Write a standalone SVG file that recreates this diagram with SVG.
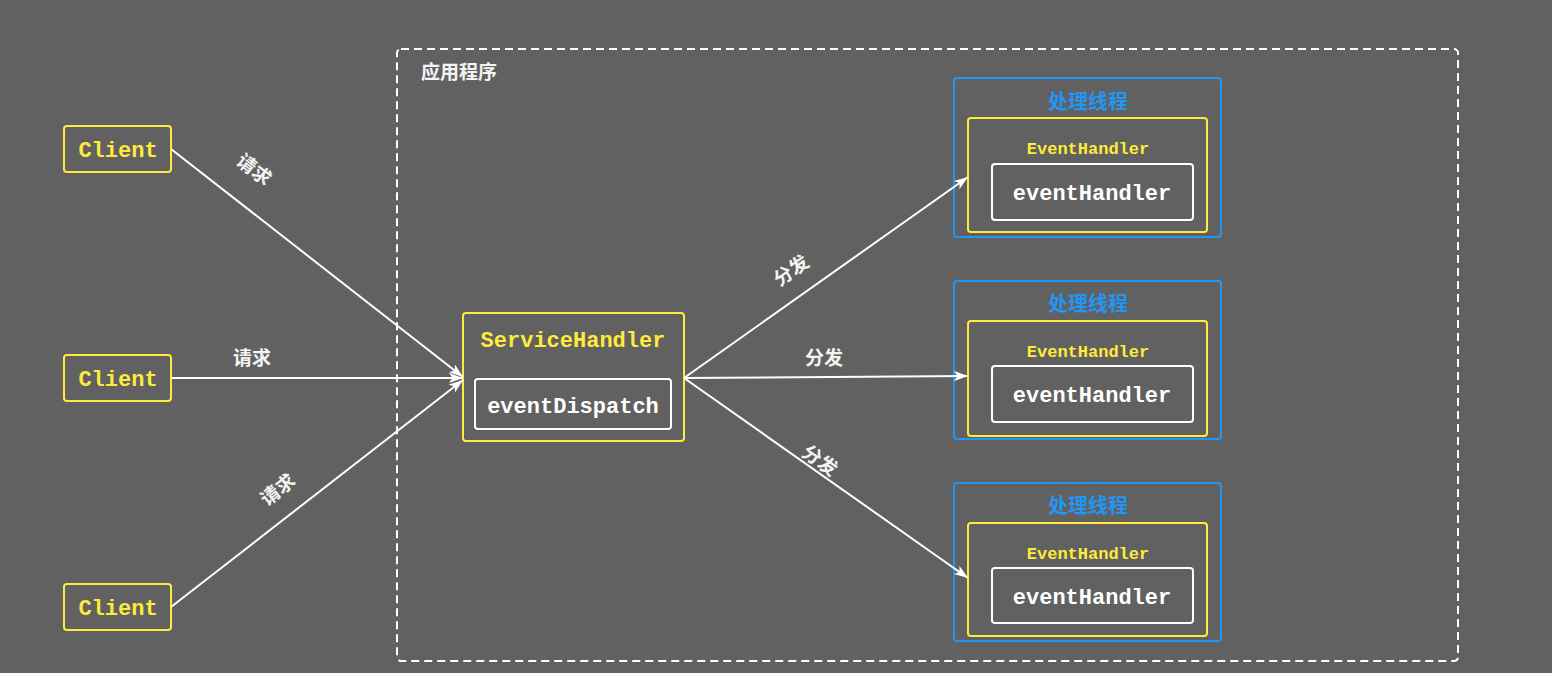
<svg xmlns="http://www.w3.org/2000/svg" width="1552" height="673" viewBox="0 0 1552 673">
<defs>
<marker id="arr" viewBox="0 0 14 10" refX="14" refY="5" markerWidth="14" markerHeight="10" markerUnits="userSpaceOnUse" orient="auto">
<path d="M0,0 L14,5 L0,10 L3.5,5 z" fill="#ffffff"/>
</marker>
<style>
.bg{fill:#616161}
.yb{fill:none;stroke:#FFEB3B;stroke-width:2}
.wb{fill:none;stroke:#ffffff;stroke-width:2}
.bb{fill:none;stroke:#2196F3;stroke-width:2}
.mono{font-family:"Liberation Mono","Noto Sans CJK SC",monospace;font-weight:bold;text-anchor:middle}
.yt{fill:#FFEB3B}
.wt{fill:#ffffff}
.cjk{font-family:"Noto Sans CJK SC","Liberation Serif",serif;font-weight:bold}
.lbl{font-family:"Noto Sans CJK SC",serif;font-weight:bold;font-size:19px;fill:#f4f4f4;text-anchor:middle}
.edge{stroke:#ffffff;stroke-width:2;fill:none;marker-end:url(#arr)}
</style>
</defs>
<rect class="bg" x="0" y="0" width="1552" height="673"/>

<g id="app">
<rect x="397" y="49" width="1061" height="612" rx="4" fill="none" stroke="#ffffff" stroke-width="2" stroke-dasharray="8,5"/>
<text x="421" y="79" class="cjk" font-size="19" fill="#f4f4f4">应用程序</text>
</g>

<g id="client1">
<rect class="yb" x="64" y="126" width="107" height="46" rx="3"/>
<text class="mono yt" x="118" y="157" font-size="22">Client</text>
</g>
<g id="client2">
<rect class="yb" x="64" y="355" width="107" height="46" rx="3"/>
<text class="mono yt" x="118" y="386" font-size="22">Client</text>
</g>
<g id="client3">
<rect class="yb" x="64" y="584" width="107" height="46" rx="3"/>
<text class="mono yt" x="118" y="615" font-size="22">Client</text>
</g>

<g id="serviceHandler">
<rect class="yb" x="463" y="313" width="221" height="128" rx="3"/>
<text class="mono yt" x="573" y="347" font-size="22">ServiceHandler</text>
<rect class="wb" x="475" y="379" width="196" height="50" rx="3"/>
<text class="mono wt" x="573" y="413" font-size="22">eventDispatch</text>
</g>

<g id="thread1">
<rect class="bb" x="954" y="78" width="267" height="159" rx="3"/>
<text x="1088" y="109" class="cjk" font-size="20" fill="#2196F3" text-anchor="middle">处理线程</text>
<rect class="yb" x="968" y="118" width="239" height="114" rx="3"/>
<text class="mono yt" x="1088" y="154" font-size="17">EventHandler</text>
<rect class="wb" x="992" y="164" width="201" height="56" rx="3"/>
<text class="mono wt" x="1092" y="200" font-size="22">eventHandler</text>
</g>
<g id="thread2">
<rect class="bb" x="954" y="281" width="267" height="158" rx="3"/>
<text x="1088" y="311" class="cjk" font-size="20" fill="#2196F3" text-anchor="middle">处理线程</text>
<rect class="yb" x="968" y="321" width="239" height="115" rx="3"/>
<text class="mono yt" x="1088" y="357" font-size="17">EventHandler</text>
<rect class="wb" x="992" y="366" width="201" height="56" rx="3"/>
<text class="mono wt" x="1092" y="402" font-size="22">eventHandler</text>
</g>
<g id="thread3">
<rect class="bb" x="954" y="483" width="267" height="158" rx="3"/>
<text x="1088" y="513" class="cjk" font-size="20" fill="#2196F3" text-anchor="middle">处理线程</text>
<rect class="yb" x="968" y="523" width="239" height="113" rx="3"/>
<text class="mono yt" x="1088" y="559" font-size="17">EventHandler</text>
<rect class="wb" x="992" y="568" width="201" height="55" rx="3"/>
<text class="mono wt" x="1092" y="604" font-size="22">eventHandler</text>
</g>

<g id="connectors">
<line class="edge" x1="171" y1="149" x2="463" y2="377"/>
<line class="edge" x1="171" y1="378" x2="463" y2="378"/>
<line class="edge" x1="171" y1="607" x2="463" y2="380"/>
<line class="edge" x1="684" y1="378" x2="968" y2="177"/>
<line class="edge" x1="684" y1="378" x2="968" y2="376"/>
<line class="edge" x1="684" y1="378" x2="968" y2="578"/>
<text class="lbl" transform="translate(250,175) rotate(38)">请求</text>
<text class="lbl" x="252" y="365">请求</text>
<text class="lbl" transform="translate(282,495) rotate(-38)">请求</text>
<text class="lbl" transform="translate(795,276) rotate(-35)">分发</text>
<text class="lbl" x="824" y="365">分发</text>
<text class="lbl" transform="translate(816,466) rotate(35)">分发</text>
</g>
</svg>
